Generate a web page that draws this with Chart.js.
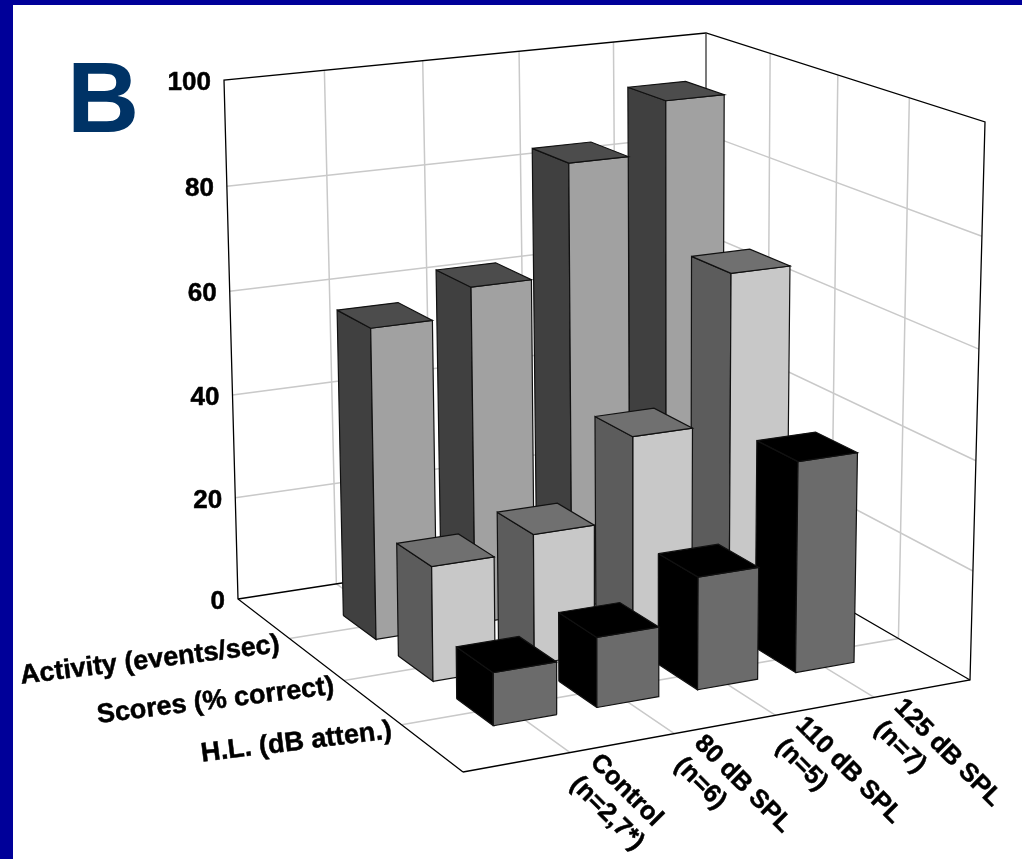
<!DOCTYPE html>
<html>
<head>
<meta charset="utf-8">
<style>
  html, body { margin: 0; padding: 0; background: #fff; overflow: hidden; }
  #frame { width: 1009px; height: 854px; border-left: 13px solid #000099; border-top: 5px solid #000099; }
  canvas { display: block; }
</style>
<script src="https://cdn.jsdelivr.net/npm/chart.js@4"></script>
</head>
<body>
<div id="frame"><canvas id="myChart" width="1009" height="854"></canvas></div>
<script>
var categories = [["Control", "(n=2,7*)"], ["80 dB SPL", "(n=6)"], ["110 dB SPL", "(n=5)"], ["125 dB SPL", "(n=7)"]];
var rowNames = ["Activity (events/sec)", "Scores (% correct)", "H.L. (dB atten.)"];
var yTicks = [0, 20, 40, 60, 80, 100];

var activity = [58.7, 64, 85, 94.7];
var scores = [21.2, 24.2, 39.6, 67.4];
var hearingLoss = [9.5, 12.7, 20.6, 38.8];

// side, front, top shade for each row
var sideColors = ["#404040", "#5c5c5c", "#000000"];
var frontColors = ["#a1a1a1", "#c8c8c8", "#6b6b6b"];
var topColors = ["#4c4c4c", "#707070", "#000000"];

// box corners as seen on the page
var floorCorners = [[238, 599], [706, 527], [970, 680], [463, 772]];
var topCorners = [[224, 80], [706, 33], [985, 122], [460, 180]];
var depthBend = 0.03;
var halfWidth = 0.061, halfDepth = 0.075;

function quad(p) {
  var dx1 = p[1][0] - p[2][0], dx2 = p[3][0] - p[2][0], sx = p[0][0] - p[1][0] + p[2][0] - p[3][0];
  var dy1 = p[1][1] - p[2][1], dy2 = p[3][1] - p[2][1], sy = p[0][1] - p[1][1] + p[2][1] - p[3][1];
  var det = dx1 * dy2 - dx2 * dy1;
  var g = (sx * dy2 - dx2 * sy) / det, h = (dx1 * sy - sx * dy1) / det;
  var a = p[1][0] - p[0][0] + g * p[1][0], b = p[3][0] - p[0][0] + h * p[3][0];
  var d = p[1][1] - p[0][1] + g * p[1][1], e = p[3][1] - p[0][1] + h * p[3][1];
  return function (u, v) {
    var w = g * u + h * v + 1;
    return [(a * u + b * v + p[0][0]) / w, (d * u + e * v + p[0][1]) / w];
  };
}
var floorAt = quad(floorCorners);
var topAt = quad(topCorners);

// u runs along the categories, v from back wall to front, z is the value axis
function project(u, v, z) {
  var t = z / 100;
  t = t / (1 + depthBend * (1 - t));
  var a = floorAt(u, v), b = topAt(u, v);
  return { x: a[0] + (b[0] - a[0]) * t, y: a[1] + (b[1] - a[1]) * t };
}

var dataset = [];

function addLine(points, color, width) {
  dataset.push({
    data: points, showLine: true, fill: false, borderColor: color, borderWidth: width,
    pointRadius: 0, tension: 0, order: -dataset.length
  });
}

function addFace(points, color) {
  dataset.push({
    data: points.concat([points[0]]), showLine: true, fill: "shape", backgroundColor: color,
    borderColor: "#111111", borderWidth: 1.2, pointRadius: 0, tension: 0, order: -dataset.length
  });
}

function addBar(u, v, value, row) {
  var u0 = u - halfWidth, u1 = u + halfWidth, v0 = v - halfDepth, v1 = v + halfDepth;
  addFace([project(u0, v0, 0), project(u0, v1, 0), project(u0, v1, value), project(u0, v0, value)], sideColors[row]);
  addFace([project(u0, v1, 0), project(u1, v1, 0), project(u1, v1, value), project(u0, v1, value)], frontColors[row]);
  addFace([project(u0, v0, value), project(u0, v1, value), project(u1, v1, value), project(u1, v0, value)], topColors[row]);
}

var gridColor = "#c9c9c9";
yTicks.slice(1, 5).forEach(function (z) {
  addLine([project(0, 0, z), project(1, 0, z), project(1, 1, z)], gridColor, 1.5);
});
for (var i = 1; i < 5; i++) {
  addLine([project(i / 5, 1, 0), project(i / 5, 0, 0), project(i / 5, 0, 100)], gridColor, 1.5);
}
for (var j = 1; j < 4; j++) {
  addLine([project(0, j / 4, 0), project(1, j / 4, 0), project(1, j / 4, 100)], gridColor, 1.5);
}
addLine([project(0, 1, 0), project(0, 0, 0), project(0, 0, 100), project(1, 0, 100), project(1, 1, 100), project(1, 1, 0), project(0, 1, 0)], "#000000", 1.3);
addLine([project(0, 0, 0), project(1, 0, 0), project(1, 1, 0)], "#000000", 1.3);
addLine([project(1, 0, 0), project(1, 0, 100)], "#333333", 1.3);

var rows = [activity, scores, hearingLoss];
rows.forEach(function (values, row) {
  for (var c = values.length - 1; c >= 0; c--) {
    addBar((c + 1) / 5, (row + 1) / 4, values[c], row);
  }
});

var labelPlugin = {
  id: "labels3d",
  afterDraw: function (chart) {
    var ctx = chart.ctx, sx = chart.scales.x, sy = chart.scales.y;
    function put(text, x, y, angle, align) {
      ctx.save();
      ctx.translate(sx.getPixelForValue(x), sy.getPixelForValue(y));
      ctx.rotate(angle * Math.PI / 180);
      ctx.textAlign = align;
      ctx.textBaseline = "middle";
      ctx.fillText(text, 0, 0);
      ctx.strokeText(text, 0, 0);
      ctx.restore();
    }
    ctx.fillStyle = "#000000";
    ctx.strokeStyle = "#000000";
    ctx.lineWidth = 0.5;
    ctx.font = "bold 26px 'Liberation Sans', Arial, sans-serif";
    yTicks.forEach(function (z) {
      var p = project(0, 0, z);
      put(String(z), p.x - 13, p.y + 3, 0, "right");
    });
    ctx.font = "bold 27px 'Liberation Sans', Arial, sans-serif";
    rowNames.forEach(function (name, n) {
      var p = project(0, (n + 1) / 4, 0);
      put(name, p.x - 10, p.y + 6, -7, "right");
    });
    ctx.font = "bold 25.5px 'Liberation Sans', Arial, sans-serif";
    categories.forEach(function (lines, n) {
      var p = project((n + 1) / 5, 1, 0);
      put(lines[0], p.x + 24, p.y + 6, 45, "left");
      put(lines[1], p.x + 4, p.y + 28, 45, "left");
    });
    ctx.fillStyle = "#003366";
    ctx.font = "bold 100px 'Liberation Sans', Arial, sans-serif";
    ctx.textAlign = "left";
    ctx.textBaseline = "alphabetic";
    ctx.fillText("B", sx.getPixelForValue(67), sy.getPixelForValue(132));
  }
};

var chart = new Chart(document.getElementById("myChart"), {
  type: "scatter",
  data: { datasets: dataset },
  options: {
    responsive: false,
    animation: false,
    layout: { padding: 0 },
    scales: {
      x: { type: "linear", min: 13, max: 1022, display: false },
      y: { type: "linear", min: 5, max: 859, reverse: true, display: false }
    },
    plugins: {
      legend: { display: false },
      tooltip: { enabled: false },
      filler: { propagate: false, drawTime: "beforeDatasetDraw" }
    }
  },
  plugins: [labelPlugin]
});
</script>
</body>
</html>
